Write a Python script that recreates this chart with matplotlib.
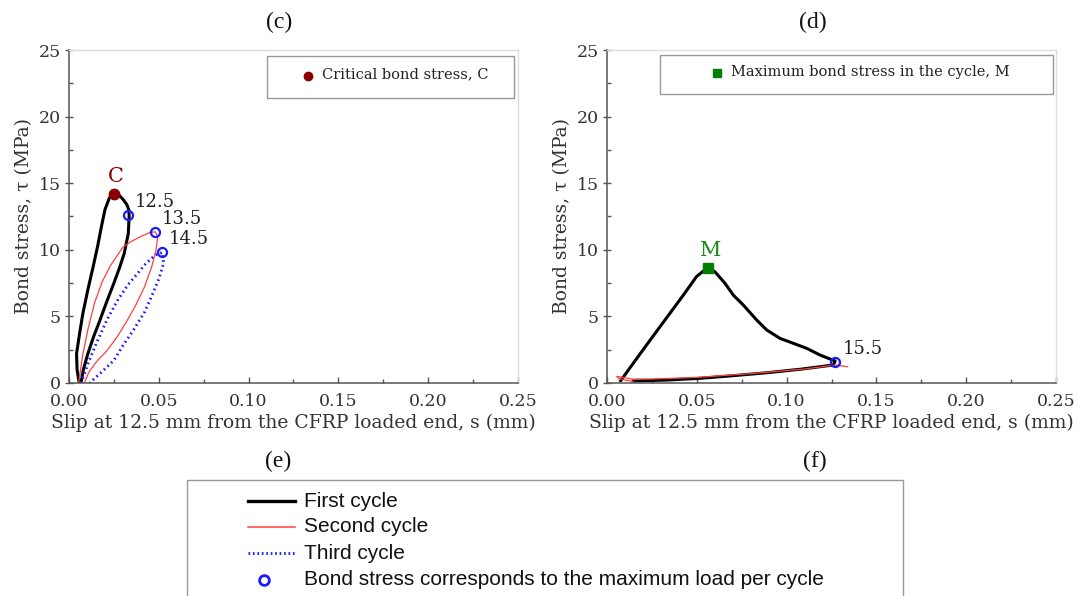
import numpy as np
import matplotlib.pyplot as plt
from matplotlib.lines import Line2D
from matplotlib.patches import Rectangle
from matplotlib.ticker import MultipleLocator

# DATA
# panel (c)
c_first_s = [0.0057, 0.0045, 0.0042, 0.0060, 0.0077, 0.0105, 0.0134, 0.0160, 0.0180, 0.0200, 0.0225, 0.0250,
             0.0275, 0.0300, 0.0322, 0.0333, 0.0335, 0.0330, 0.0307, 0.0280, 0.0250, 0.0210, 0.0172, 0.0135, 0.0105, 0.0080, 0.0067]
c_first_t = [0.0, 1.0, 2.2, 3.8, 5.2, 7.0, 8.7, 10.3, 11.7, 13.0, 13.9, 14.2,
             14.15, 13.8, 13.4, 13.0, 12.5, 11.2, 9.7, 8.6, 7.5, 6.1, 4.7, 3.4, 2.2, 1.0, 0.0]
c_second_s = [0.0054, 0.0075, 0.0105, 0.0142, 0.0185, 0.0230, 0.0270, 0.0300, 0.0343, 0.0400, 0.0450, 0.0480,
              0.0494, 0.0485, 0.0460, 0.0420, 0.0370, 0.0320, 0.0270, 0.0210, 0.0153, 0.0110, 0.0086]
c_second_t = [0.0, 2.0, 4.0, 6.0, 7.6, 8.8, 9.6, 10.2, 10.6, 11.0, 11.3, 11.35,
              11.0, 10.0, 8.7, 7.2, 5.8, 4.6, 3.5, 2.4, 1.6, 0.8, 0.0]
c_third_s = [0.0067, 0.0110, 0.0153, 0.0210, 0.0270, 0.0330, 0.0380, 0.0430, 0.0480, 0.0520,
             0.0527, 0.0500, 0.0460, 0.0420, 0.0360, 0.0300, 0.0250, 0.0180, 0.0115]
c_third_t = [0.0, 1.6, 3.0, 4.7, 6.2, 7.4, 8.2, 9.0, 9.6, 9.8,
             9.0, 7.8, 6.5, 5.3, 4.0, 2.8, 1.7, 0.8, 0.0]
c_crit = (0.025, 14.2)
c_max_s = [0.033, 0.048, 0.052]
c_max_t = [12.6, 11.3, 9.8]
c_max_lab = ["12.5", "13.5", "14.5"]

# panel (d)
d_first_s = [0.0076, 0.0146, 0.0239, 0.0332, 0.0425, 0.0499, 0.0545, 0.0560, 0.0600, 0.0656, 0.0703,
             0.0759, 0.0833, 0.0889, 0.0963, 0.1037, 0.1112, 0.1186, 0.1270,
             0.1260, 0.1075, 0.0890, 0.0703, 0.0518, 0.0332, 0.0146]
d_first_t = [0.17, 1.48, 3.2, 4.9, 6.6, 8.0, 8.5, 8.6, 8.36, 7.5, 6.6,
             5.85, 4.73, 3.98, 3.35, 2.98, 2.6, 2.1, 1.65,
             1.35, 1.03, 0.77, 0.55, 0.35, 0.22, 0.15]
d_second_s = [0.0146, 0.0100, 0.0060, 0.0054, 0.0090, 0.0140, 0.0250, 0.0500, 0.0800, 0.1100, 0.1270, 0.1340]
d_second_t = [0.12, 0.22, 0.38, 0.5, 0.42, 0.3, 0.3, 0.42, 0.7, 1.05, 1.35, 1.22]
d_peak = (0.056, 8.6)
d_max_s = [0.127]
d_max_t = [1.6]
d_max_lab = ["15.5"]

plt.rcParams['font.family'] = 'DejaVu Serif'

fig = plt.figure(figsize=(10.78, 5.96), dpi=100)
ax_c = fig.add_axes([0.0640, 0.3574, 0.4165, 0.5587])
ax_d = fig.add_axes([0.5631, 0.3574, 0.4165, 0.5587])


def style_axes(ax):
    ax.set_xlim(0, 0.25)
    ax.set_ylim(0, 25)
    ax.xaxis.set_major_locator(MultipleLocator(0.05))
    ax.xaxis.set_minor_locator(MultipleLocator(0.025))
    ax.yaxis.set_major_locator(MultipleLocator(5))
    ax.yaxis.set_minor_locator(MultipleLocator(2.5))
    ax.xaxis.set_major_formatter(plt.FuncFormatter(lambda v, p: f"{v:.2f}"))
    ax.tick_params(which='both', labelsize=12.5, labelcolor='#333333', color='#555555', width=1)
    ax.tick_params(axis='x', which='major', direction='in', length=4.5, pad=7)
    ax.tick_params(axis='y', which='major', direction='inout', length=6, pad=3)
    ax.tick_params(which='minor', direction='in', length=3)
    for side in ['left', 'bottom']:
        ax.spines[side].set_color('#555555')
        ax.spines[side].set_linewidth(1.1)
    for side in ['top', 'right']:
        ax.spines[side].set_color('#dddddd')
        ax.spines[side].set_linewidth(1.0)
    ax.set_xlabel("Slip at 12.5 mm from the CFRP loaded end, s (mm)", fontsize=13.5, color='#333333', labelpad=3)
    ax.set_ylabel("Bond stress, τ (MPa)", fontsize=13.5, color='#333333', labelpad=4)


for ax in (ax_c, ax_d):
    style_axes(ax)

# (c)
ax_c.plot(c_first_s, c_first_t, color='black', lw=2.2, solid_capstyle='round', solid_joinstyle='round')
ax_c.plot(c_second_s, c_second_t, color='#ff4040', lw=0.9)
ax_c.plot(c_third_s, c_third_t, color='#1a1aff', lw=2.0, ls=(0, (0.6, 1.2)))
ax_c.plot(c_max_s, c_max_t, 'o', mfc='none', mec='#1a1aff', mew=1.6, ms=6.5)
ax_c.plot(*c_crit, 'o', color='#8b0000', ms=7.5)
ax_c.text(c_crit[0] + 0.001, c_crit[1] + 0.6, "C", color='#8b0000', fontsize=15, ha='center', va='bottom')
for s, t, lab in zip(c_max_s, c_max_t, c_max_lab):
    ax_c.text(s + 0.0035, t + 0.3, lab, fontsize=13, color='#222222', ha='left', va='bottom')

ax_c.add_patch(Rectangle((0.441, 0.856), 0.550, 0.126, transform=ax_c.transAxes,
                         fill=False, ec='#999999', lw=1.0, clip_on=False))
ax_c.plot([0.532], [0.923], 'o', color='#8b0000', ms=6, transform=ax_c.transAxes)
ax_c.text(0.563, 0.927, "Critical bond stress, C", transform=ax_c.transAxes,
          fontsize=10.5, color='#222222', va='center', ha='left')

# (d)
ax_d.plot(d_second_s, d_second_t, color='#ff4040', lw=0.9, zorder=3)
ax_d.plot(d_first_s, d_first_t, color='black', lw=2.2, zorder=2, solid_joinstyle='round')
ax_d.plot(d_max_s, d_max_t, 'o', mfc='none', mec='#1a1aff', mew=1.6, ms=6.5, zorder=4)
ax_d.plot(*d_peak, 's', color='#008000', ms=6.5, zorder=5)
ax_d.text(d_peak[0] + 0.0015, d_peak[1] + 0.6, "M", color='#1a8a1a', fontsize=15, ha='center', va='bottom')
for s, t, lab in zip(d_max_s, d_max_t, d_max_lab):
    ax_d.text(s + 0.0045, t + 0.3, lab, fontsize=13, color='#222222', ha='left', va='bottom')

ax_d.add_patch(Rectangle((0.117, 0.867), 0.877, 0.118, transform=ax_d.transAxes,
                         fill=False, ec='#999999', lw=1.0, clip_on=False))
ax_d.plot([0.244], [0.931], 's', color='#008000', ms=5.5, transform=ax_d.transAxes)
ax_d.text(0.276, 0.935, "Maximum bond stress in the cycle, M", transform=ax_d.transAxes,
          fontsize=10.5, color='#222222', va='center', ha='left')

# panel letters
for x, y, s in [(0.2585, 0.963, "(c)"), (0.754, 0.963, "(d)"), (0.258, 0.2265, "(e)"), (0.756, 0.2265, "(f)")]:
    fig.text(x, y, s, fontsize=17, ha='center', va='center', color='#111111', family='Liberation Serif')

# shared legend at the bottom
fig.patches.append(Rectangle((0.1735, -0.05), 0.664, 0.245, transform=fig.transFigure,
                             fill=False, ec='#999999', lw=1.0))
rows = [0.159, 0.116, 0.072, 0.027]
handles = [
    Line2D([0.230, 0.2737], [rows[0]] * 2, color='black', lw=2.4, transform=fig.transFigure),
    Line2D([0.230, 0.2737], [rows[1]] * 2, color='#ff4040', lw=1.1, transform=fig.transFigure),
    Line2D([0.230, 0.2737], [rows[2]] * 2, color='#1a1aff', lw=2.0, ls=(0, (0.6, 1.0)), transform=fig.transFigure),
    Line2D([0.245], [rows[3]], marker='o', mfc='none', mec='#1a1aff', mew=2.0, ms=7, ls='none', transform=fig.transFigure),
]
labels = ["First cycle", "Second cycle", "Third cycle", "Bond stress corresponds to the maximum load per cycle"]
for h, lab, y in zip(handles, labels, rows):
    fig.lines.append(h)
    fig.text(0.282, y, lab, fontsize=15, family='Liberation Sans', color='#111111', va='center', ha='left')

fig.savefig('out.png', dpi=100)
